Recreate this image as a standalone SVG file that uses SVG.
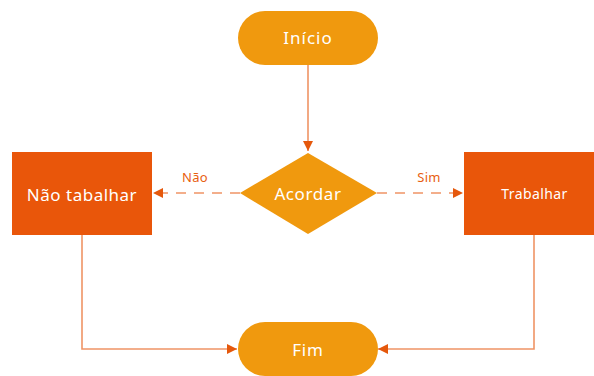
<svg xmlns="http://www.w3.org/2000/svg" width="594" height="376" viewBox="0 0 594 376">
<defs>
<marker id="ah" viewBox="0 0 10 10" refX="10" refY="5" markerWidth="10" markerHeight="10" markerUnits="userSpaceOnUse" orient="auto">
<path d="M0,0 L10,5 L0,10 Z" fill="#e5580c"/>
</marker>
<style>
.term{fill:#f0990e}
.box{fill:#e9560a}
.t{font-family:"Noto Sans","Open Sans",sans-serif;fill:#ffffff;text-anchor:middle;dominant-baseline:central}
.lbl{font-family:"Noto Sans","Open Sans",sans-serif;fill:#e8600f;font-size:13px;text-anchor:middle;letter-spacing:0.3px}
.ln{fill:none;stroke:#ef9465;stroke-width:1.6}
.dash{stroke-dasharray:10,8}
</style>
</defs>
<rect width="594" height="376" fill="#ffffff"/>
<g id="connectors">
<line class="ln" x1="308" y1="65" x2="308" y2="151" marker-end="url(#ah)"/>
<line class="ln dash" x1="240" y1="193" x2="153" y2="193" marker-end="url(#ah)"/>
<line class="ln dash" x1="377" y1="193" x2="463" y2="193" marker-end="url(#ah)"/>
<polyline class="ln" points="82,235 82,349 237,349" marker-end="url(#ah)"/>
<polyline class="ln" points="534,235 534,349 378,349" marker-end="url(#ah)"/>
<text class="lbl" x="195" y="182">Não</text>
<text class="lbl" x="429" y="182">Sim</text>
</g>
<g id="inicio">
<rect class="term" x="238" y="11" width="140" height="54" rx="27"/>
<text class="t" x="308" y="37" font-size="17" letter-spacing="1">Início</text>
</g>
<g id="acordar">
<polygon class="term" points="308,153 377,193 308,234 240,193"/>
<text class="t" x="308" y="193" font-size="17" letter-spacing="0.6">Acordar</text>
</g>
<g id="nao-tabalhar">
<rect class="box" x="12" y="152" width="140" height="83"/>
<text class="t" x="82" y="194" font-size="17" letter-spacing="0.5">Não tabalhar</text>
</g>
<g id="trabalhar">
<rect class="box" x="464" y="152" width="140" height="83"/>
<text class="t" x="534.5" y="193" font-size="14" letter-spacing="0.4">Trabalhar</text>
</g>
<g id="fim">
<rect class="term" x="238" y="322" width="140" height="54" rx="27"/>
<text class="t" x="308" y="349" font-size="17" letter-spacing="0.8">Fim</text>
</g>
</svg>
